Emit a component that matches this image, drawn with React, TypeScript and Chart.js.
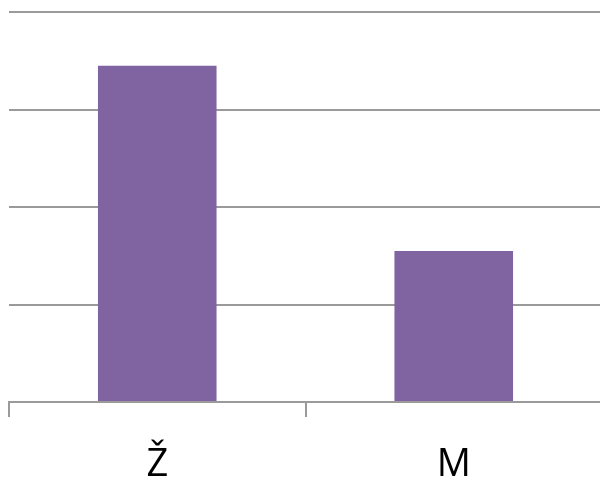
import React, { useEffect, useRef } from "react";
import { Chart, registerables } from "chart.js";

Chart.register(...registerables);

const categories = ["Ž", "M"];
const values = [69, 31];
const yMax = 80;
const yStep = 20;

export default function App() {
  const ref = useRef<HTMLCanvasElement | null>(null);
  useEffect(() => {
    document.body.style.margin = "0";
    const chart = new Chart(ref.current!, {
      type: "bar",
      data: {
        labels: categories,
        datasets: [
          {
            data: values,
            backgroundColor: "#8064A2",
            borderWidth: 0,
            categoryPercentage: 0.8,
            barPercentage: 0.5,
          },
        ],
      },
      options: {
        responsive: false,
        animation: false,
        maintainAspectRatio: false,
        layout: { padding: { left: 9, top: 12, right: 0, bottom: 0 } },
        plugins: { legend: { display: false }, tooltip: { enabled: false } },
        scales: {
          x: {
            grid: {
              display: true,
              drawOnChartArea: false,
              drawTicks: true,
              tickLength: 15,
              color: "#9a9a9a",
              lineWidth: 2,
              offset: true,
            },
            border: { display: true, color: "#9a9a9a", width: 2 },
            ticks: {
              color: "#000",
              padding: 25,
              font: { family: "'Open Sans'", size: 38 },
            },
            afterFit: (s: any) => {
              s.height = 79;
            },
          },
          y: {
            min: 0,
            max: yMax,
            ticks: { display: false, stepSize: yStep },
            grid: { color: "#9a9a9a", lineWidth: 2, drawTicks: false },
            border: { display: false },
          },
        },
      },
    });
    return () => chart.destroy();
  }, []);
  return (
    <div style={{ width: 600, height: 481, overflow: "hidden" }}>
      <canvas ref={ref} width={602} height={481} style={{ display: "block" }} />
    </div>
  );
}
